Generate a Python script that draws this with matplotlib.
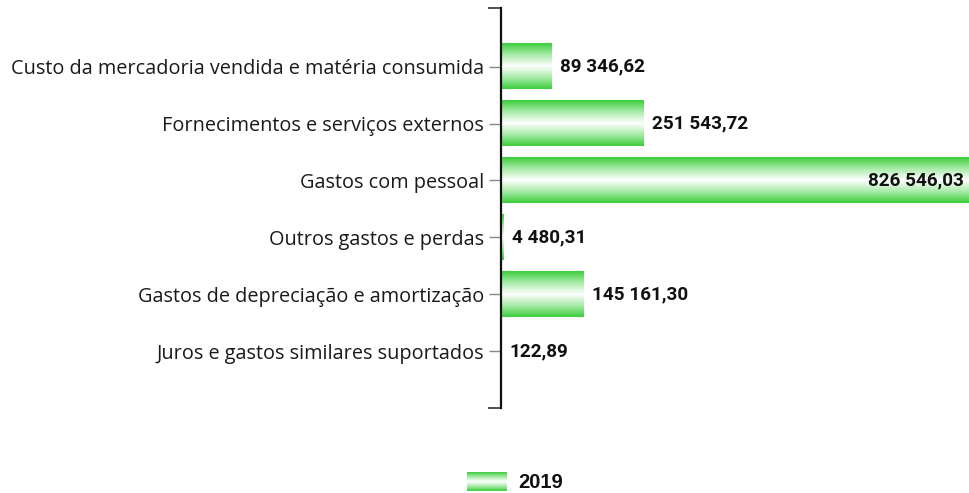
import matplotlib
matplotlib.use("Agg")
import matplotlib.pyplot as plt
import numpy as np
from matplotlib.colors import LinearSegmentedColormap
from matplotlib.ticker import FixedLocator

categories = [
    "Custo da mercadoria vendida e matéria consumida",
    "Fornecimentos e serviços externos",
    "Gastos com pessoal",
    "Outros gastos e perdas",
    "Gastos de depreciação e amortização",
    "Juros e gastos similares suportados",
]
values_2019 = [89346.62, 251543.72, 826546.03, 4480.31, 145161.30, 122.89]
value_labels = ["89 346,62", "251 543,72", "826 546,03", "4 480,31", "145 161,30", "122,89"]
series_name = "2019"

plt.rcParams['font.family'] = ['Open Sans', 'DejaVu Sans']

W, H = 969, 493
fig = plt.figure(figsize=(W / 100, H / 100), dpi=100)
ax = fig.add_axes([501 / W, 1 - 408 / H, 1 - 501 / W, 400 / H])

cmap = LinearSegmentedColormap.from_list("g", ["#3ccd3c", "#a8eba8", "#ffffff", "#a8eba8", "#3ccd3c"])
grad = np.linspace(0, 1, 256).reshape(-1, 1)

bar_h = 0.8
xmax = max(values_2019)
bold_font = ['Roboto', 'DejaVu Sans']
for i, v in enumerate(values_2019):
    ax.imshow(grad, cmap=cmap, aspect='auto', interpolation='bilinear',
              extent=[0, v, i + bar_h / 2, i - bar_h / 2], zorder=2)
    if v > 0.8 * xmax:
        ax.annotate(value_labels[i], (v, i), xytext=(-4, 0), textcoords='offset points',
                    ha='right', va='center', fontsize=13.6, fontweight='bold', family=bold_font,
                    color='#111111', zorder=3)
    else:
        ax.annotate(value_labels[i], (v, i), xytext=(6, 0), textcoords='offset points',
                    ha='left', va='center', fontsize=13.6, fontweight='bold', family=bold_font,
                    color='#111111', zorder=3)

ax.set_xlim(0, xmax)
ax.set_ylim(6.0, -1.03)
ax.set_yticks(range(len(categories)))
ax.set_yticklabels(categories, fontsize=14.3, color='#1a1a1a')
ax.yaxis.set_minor_locator(FixedLocator([-1.03, 6.0]))
ax.tick_params(axis='y', which='major', length=9, width=1, color='#888888', pad=3)
ax.tick_params(axis='y', which='minor', length=9.5, width=1.2, color='#333333')
ax.set_xticks([])
for s in ['top', 'right', 'bottom']:
    ax.spines[s].set_visible(False)
ax.spines['left'].set_linewidth(1.6)
ax.spines['left'].set_color('#111111')
ax.patch.set_alpha(0)

# legend
lax = fig.add_axes([467 / W, 1 - 491 / H, 40 / W, 19 / H])
lax.imshow(grad, cmap=cmap, aspect='auto', interpolation='bilinear')
lax.axis('off')
fig.text(518 / W, 1 - 482 / H, series_name, ha='left', va='center', fontsize=14.5,
         fontweight='bold', family=['Liberation Sans', 'DejaVu Sans'], color='#111111')

fig.savefig("out.png", dpi=100)
